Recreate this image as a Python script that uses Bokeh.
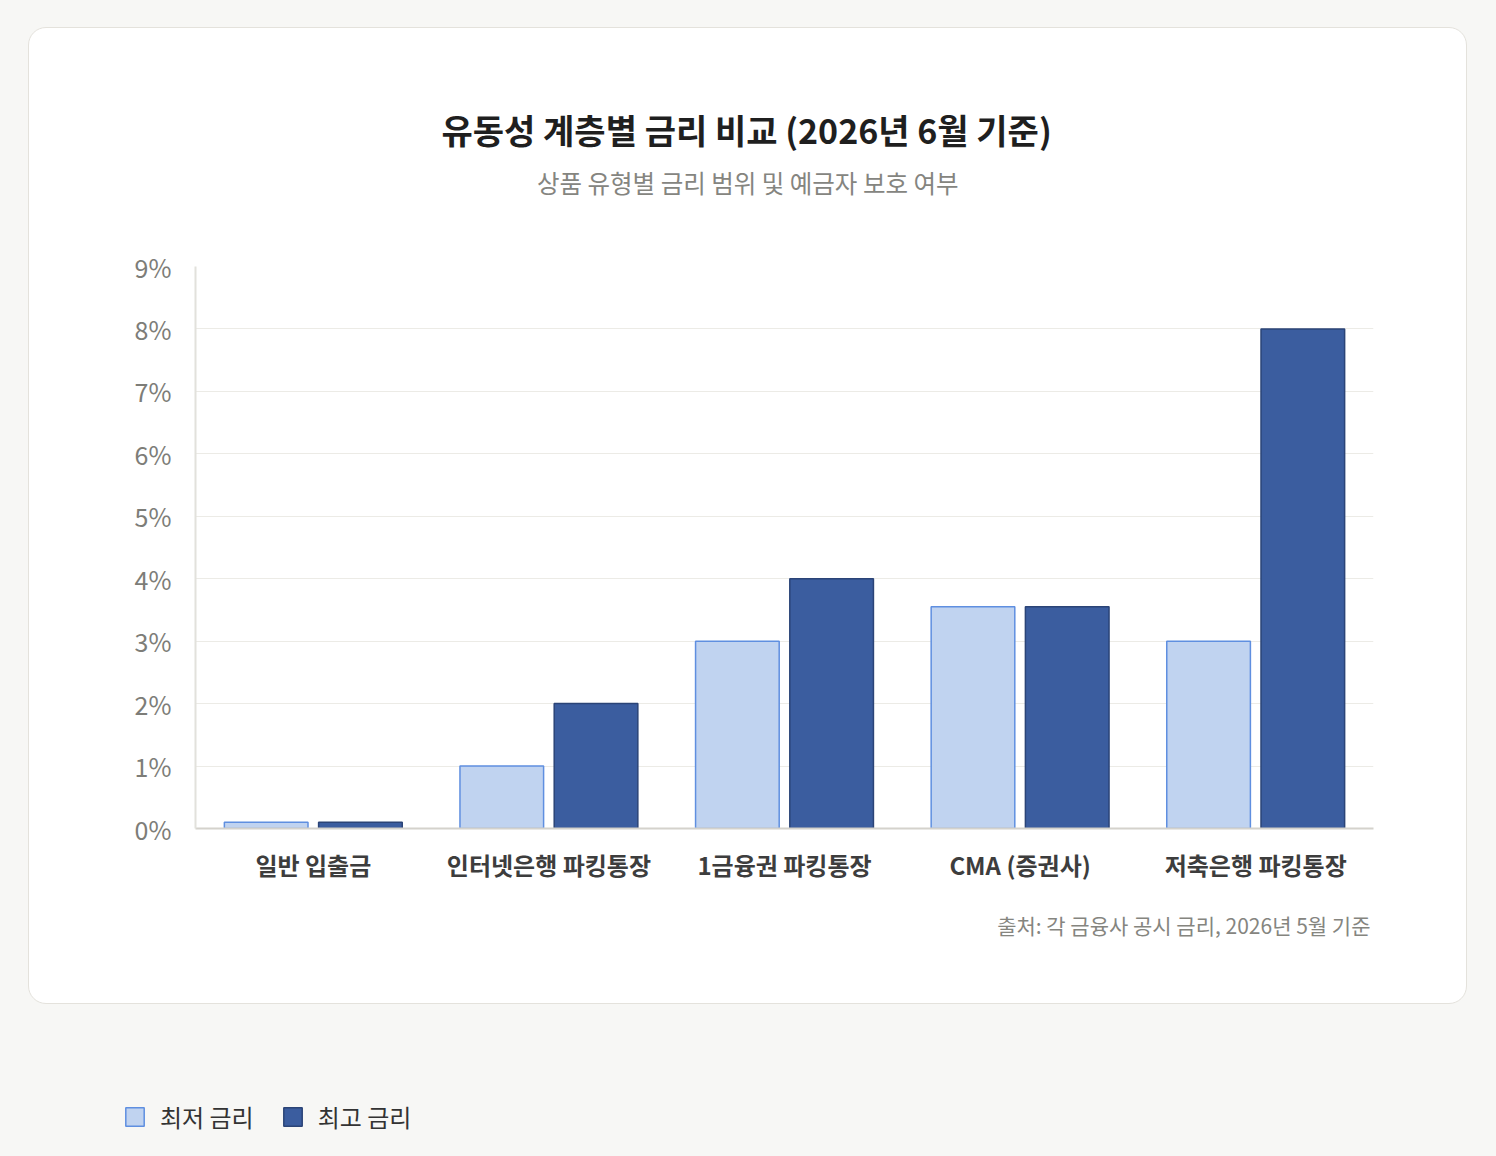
from bokeh.plotting import figure
from bokeh.models import (ColumnDataSource, FactorRange, Range1d, Title, Legend,
                          LegendItem, FixedTicker)
from bokeh.transform import dodge
from bokeh.layouts import column
from bokeh.embed import file_html
from bokeh.resources import INLINE

# ---- data ----
categories = ["일반 입출금", "인터넷은행 파킹통장", "1금융권 파킹통장", "CMA (증권사)", "저축은행 파킹통장"]
min_rate = [0.1, 1.0, 3.0, 3.55, 3.0]
max_rate = [0.1, 2.0, 4.0, 3.55, 8.0]
series_names = ["최저 금리", "최고 금리"]
y_ticks = [0, 1, 2, 3, 4, 5, 6, 7, 8, 9]
y_tick_labels = ["0%", "1%", "2%", "3%", "4%", "5%", "6%", "7%", "8%", "9%"]
title_text = "유동성 계층별 금리 비교 (2026년 6월 기준)"
subtitle_text = "상품 유형별 금리 범위 및 예금자 보호 여부"
source_text = "출처: 각 금융사 공시 금리, 2026년 5월 기준"

FONT = "Noto Sans CJK KR"
LIGHT_FILL, LIGHT_LINE = "#c0d3f0", "#5f8fe0"
DARK_FILL, DARK_LINE = "#3b5d9f", "#2b4477"
EN = "\u2002"  # trailing en-spaces shift centred titles toward the card centre

src = ColumnDataSource(dict(cat=categories, lo=min_rate, hi=max_rate))

p = figure(x_range=FactorRange(*categories), y_range=Range1d(0, 9),
           width=1439, height=977, output_backend="svg", toolbar_location=None,
           min_border_left=166, min_border_right=95, min_border_top=238,
           min_border_bottom=177, border_fill_color=None,
           background_fill_color="white", outline_line_color=None,
           styles={"border-radius": "18px", "border": "1px solid #e4e2dc",
                   "background-color": "white", "overflow": "hidden"},
           margin=(27, 0, 0, 28))
p.frame_align = False

p.vbar(x=dodge("cat", -0.2, range=p.x_range), top="lo", width=0.355, source=src,
       fill_color=LIGHT_FILL, line_color=LIGHT_LINE, line_width=1.5)
p.vbar(x=dodge("cat", 0.2, range=p.x_range), top="hi", width=0.355, source=src,
       fill_color=DARK_FILL, line_color=DARK_LINE, line_width=1.5)

p.xgrid.grid_line_color = None
p.ygrid.grid_line_color = "#ecebe6"
p.ygrid.grid_line_width = 1.2

p.yaxis.ticker = FixedTicker(ticks=y_ticks)
p.yaxis.major_label_overrides = {t: l for t, l in zip(y_ticks, y_tick_labels)}
p.yaxis.axis_line_color = "#e2e1dc"
p.yaxis.axis_line_width = 2
p.yaxis.major_tick_line_color = None
p.yaxis.minor_tick_line_color = None
p.yaxis.major_label_text_font = FONT
p.yaxis.major_label_text_font_size = "25px"
p.yaxis.major_label_text_color = "#7d7d78"
p.yaxis.major_label_standoff = 18

p.xaxis.axis_line_color = "#d4d2cc"
p.xaxis.axis_line_width = 2
p.xaxis.major_tick_line_color = None
p.xaxis.major_label_text_font = FONT
p.xaxis.major_label_text_font_size = "24px"
p.xaxis.major_label_text_font_style = "bold"
p.xaxis.major_label_text_color = "#3d3d3d"
p.xaxis.major_label_standoff = 12

# main title (figure title, always outermost)
p.title.text = title_text + EN * 4 + "\u00a0"
p.title.align = "center"
p.title.text_font = FONT
p.title.text_font_size = "34px"
p.title.text_font_style = "bold"
p.title.text_color = "#1f1f1f"
p.title.standoff = 8

# spacer next to the plot area, then the subtitle above it
p.add_layout(Title(text=EN, text_font_size="1px", standoff=59), "above")
p.add_layout(Title(text=subtitle_text + EN * 6, align="center", text_font=FONT,
                   text_font_size="24.5px", text_font_style="normal",
                   text_color="#85857f", standoff=10), "above")

p.add_layout(Title(text=source_text, align="right", offset=3, text_font=FONT,
                   text_font_size="21px", text_font_style="normal",
                   text_color="#85857f", standoff=46), "below")

# ---- legend (outside the card); its renderers are hidden, only keys show ----
lg = figure(width=1496, height=60, x_range=FactorRange(*categories),
            y_range=Range1d(100, 101), x_axis_type=None, y_axis_type=None,
            output_backend="svg", toolbar_location=None, min_border=0,
            outline_line_color=None, border_fill_color=None,
            background_fill_color=None, margin=(88, 0, 0, 0))
lg.frame_align = False
lg.xgrid.grid_line_color = None
lg.ygrid.grid_line_color = None
r1 = lg.vbar(x=dodge("cat", -0.2, range=lg.x_range), top="lo", width=0.355,
             source=src, fill_color=LIGHT_FILL, line_color=LIGHT_LINE, line_width=1.5)
r2 = lg.vbar(x=dodge("cat", 0.2, range=lg.x_range), top="hi", width=0.355,
             source=src, fill_color=DARK_FILL, line_color=DARK_LINE, line_width=1.5)
r1.visible = False
r2.visible = False
legend = Legend(items=[LegendItem(label=series_names[0], renderers=[r1]),
                       LegendItem(label=series_names[1], renderers=[r2])],
                orientation="horizontal", location=(123, 18),
                glyph_width=23, glyph_height=23, label_standoff=14, spacing=27,
                padding=0, margin=0, border_line_color=None,
                background_fill_alpha=0, label_text_font=FONT,
                label_text_font_size="24px", label_text_color="#333333")
lg.add_layout(legend, "center")

root = column(p, lg, width=1496, height=1156,
              styles={"background-color": "#f7f7f5"})

open("out.html", "w").write(file_html(root, INLINE))
